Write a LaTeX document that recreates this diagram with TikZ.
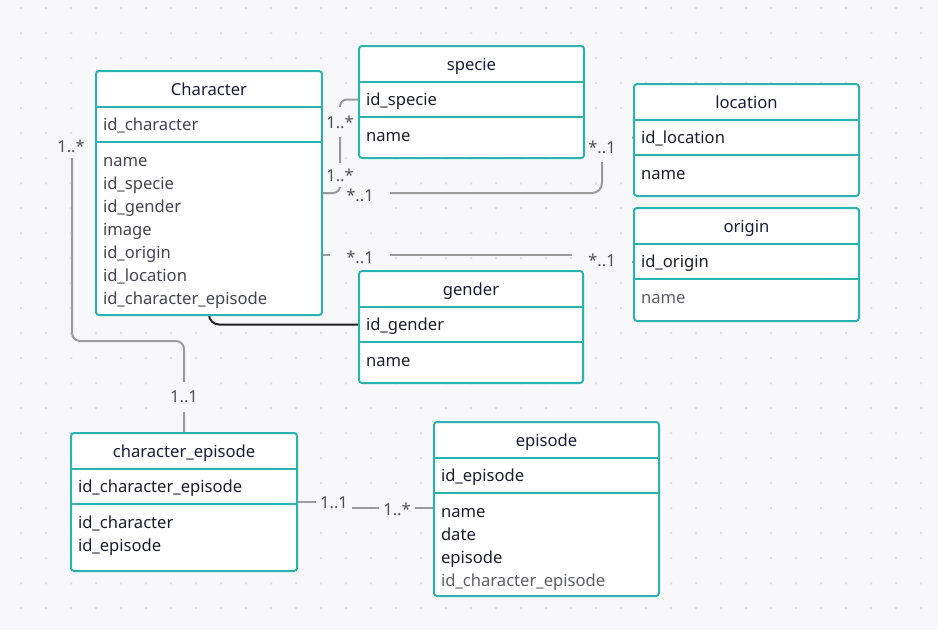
\documentclass[tikz,border=0pt]{standalone}
\usepackage{fontspec}
\setmainfont{Noto Sans}
\usepackage{xcolor}
\usetikzlibrary{calc, backgrounds}
\definecolor{fondo}{HTML}{F8F8FA}
\definecolor{punto}{HTML}{DEDEE4}
\definecolor{turquesa}{HTML}{2AB4AF}
\definecolor{marino}{HTML}{1C1B3A}
\definecolor{oscuro}{HTML}{1E1E2C}
\definecolor{gris}{HTML}{45454F}
\definecolor{claro}{HTML}{5E5E66}
\definecolor{linea}{HTML}{9B9B9B}
\definecolor{etiqueta}{HTML}{505056}
\newcommand{\campo}{\fontsize{16.6}{23}\selectfont}
\tikzset{
  caja/.style={draw=turquesa, fill=white, line width=2pt, rounded corners=3pt,
               anchor=north west, inner sep=0pt, outer sep=0pt},
  cabecera/.style={font=\campo, text=marino, text height=12pt, text depth=0pt, inner sep=0pt},
  clave/.style={anchor=north west, minimum height=35pt, inner xsep=7pt, inner ysep=0pt, outer sep=0pt,
                text height=12pt, text depth=1pt, align=left, font=\campo, text=oscuro},
  campos/.style={anchor=north west, inner xsep=7pt, inner ysep=8.5pt, outer sep=0pt,
                 align=left, font=\campo, text=oscuro},
  borde/.style={draw=turquesa, line width=2pt},
  rel/.style={draw=linea, line width=2pt},
  une/.style={draw=black!88, line width=2pt},
  card/.style={fill=fondo, text=etiqueta, font=\fontsize{16.5}{18}\selectfont,
               minimum width=36pt, minimum height=30pt, inner sep=0pt},
}
% tabla: nombre, x, y, ancho, alto, titulo, clave, campos
\newcommand{\tabla}[8]{%
  \pgfmathsetmacro{\anchotxt}{#4-14}%
  \node[caja, minimum width=#4pt, minimum height=#5pt] (#1) at (#2,#3) {};
  \node[cabecera] (#1-t) at ($(#1.north)+(0,18)$) {#6};
  \node[clave, text width=\anchotxt pt] (#1-k) at ($(#1.north west)+(0,36)$) {#7};
  \node[campos, text width=\anchotxt pt] (#1-c) at ($(#1.north west)+(0,71)$) {\strut #8};
  \draw[borde] (#1-k.north west) -- (#1-k.north east)
               (#1-k.south west) -- (#1-k.south east);
}

\begin{document}
\begin{tikzpicture}[x=1pt, y=-1pt]
  \useasboundingbox (0,0) rectangle (938,630);
  \begin{pgfonlayer}{background}
    \fill[fondo] (0,0) rectangle (938,630);
    \foreach \x in {21,46,...,921}
      \foreach \y in {8,33,...,608}
        \fill[punto] (\x,\y) circle[radius=1.5pt];
  \end{pgfonlayer}

  % tablas
  \tabla{character}{96}{71}{226}{244}{Character}{\color{gris}id\_character}
    {\color{gris}name\\id\_specie\\id\_gender\\image\\id\_origin\\id\_location\\id\_character\_episode}
  \tabla{specie}{359}{46}{225}{112}{specie}{id\_specie}{name}
  \tabla{location}{634}{84}{225}{112}{location}{id\_location}{name}
  \tabla{origin}{634}{208}{225}{113}{origin}{id\_origin}{\color{claro}name}
  \tabla{gender}{359}{271}{224}{112}{gender}{id\_gender}{name}
  \tabla{chepisode}{71}{433}{226}{138}{character\_episode}{id\_character\_episode}
    {id\_character\\id\_episode}
  \tabla{episode}{434}{422}{225}{174}{episode}{id\_episode}
    {name\\date\\episode\\\color{claro}id\_character\_episode}

  % relaciones
  \begin{pgfonlayer}{background}
    \coordinate (chs) at ($(character.north east)+(0,122)$);
    \coordinate (cho) at ($(character.north east)+(0,184)$);
    \coordinate (chf) at (72,158);
    \coordinate (cee) at ($(chepisode.north east)+(0,69)$);
    \coordinate (epw) at ($(episode.north west)+(0,86)$);

    \draw[rel, rounded corners=10pt] (chs) -- (602,193) -- (602,137.5) -- (location-k.west);
    \node[card, minimum width=60pt] (l1) at (360,195) {*..1};
    \node[card, minimum width=60pt] (l2) at (602,147) {*..1};
    \draw[rel] (cho) -- (602,255) -- (602,261.5) -- (origin-k.west);
    \node[card, minimum width=60pt] (l3) at (360,257) {*..1};
    \node[card, minimum width=60pt] (l4) at (602,260) {*..1};
    \draw[rel, rounded corners=7pt] (chs) -- (340,193) -- (340,99.5) -- (specie-k.west);
    \node[card] (l5) at (340,122) {1..*};
    \node[card, minimum height=24pt] (l6) at (340,175) {1..*};
    \draw[une, rounded corners=10pt] (character.south) |- (gender-k.west);
    \draw[rel, rounded corners=8pt] (chf) -- (72,341) -- (184,341) -- (chepisode.north);
    \node[card, minimum height=24pt] (l7) at (71,146) {1..*};
    \node[card] (l8) at (184,397) {1..1};
    \draw[rel] (cee) -- (334,502) -- (334,508) -- (epw);
    \node[card] (l9) at (334,503) {1..1};
    \node[card] (l10) at (397,509) {1..*};
  \end{pgfonlayer}
\end{tikzpicture}
\end{document}
